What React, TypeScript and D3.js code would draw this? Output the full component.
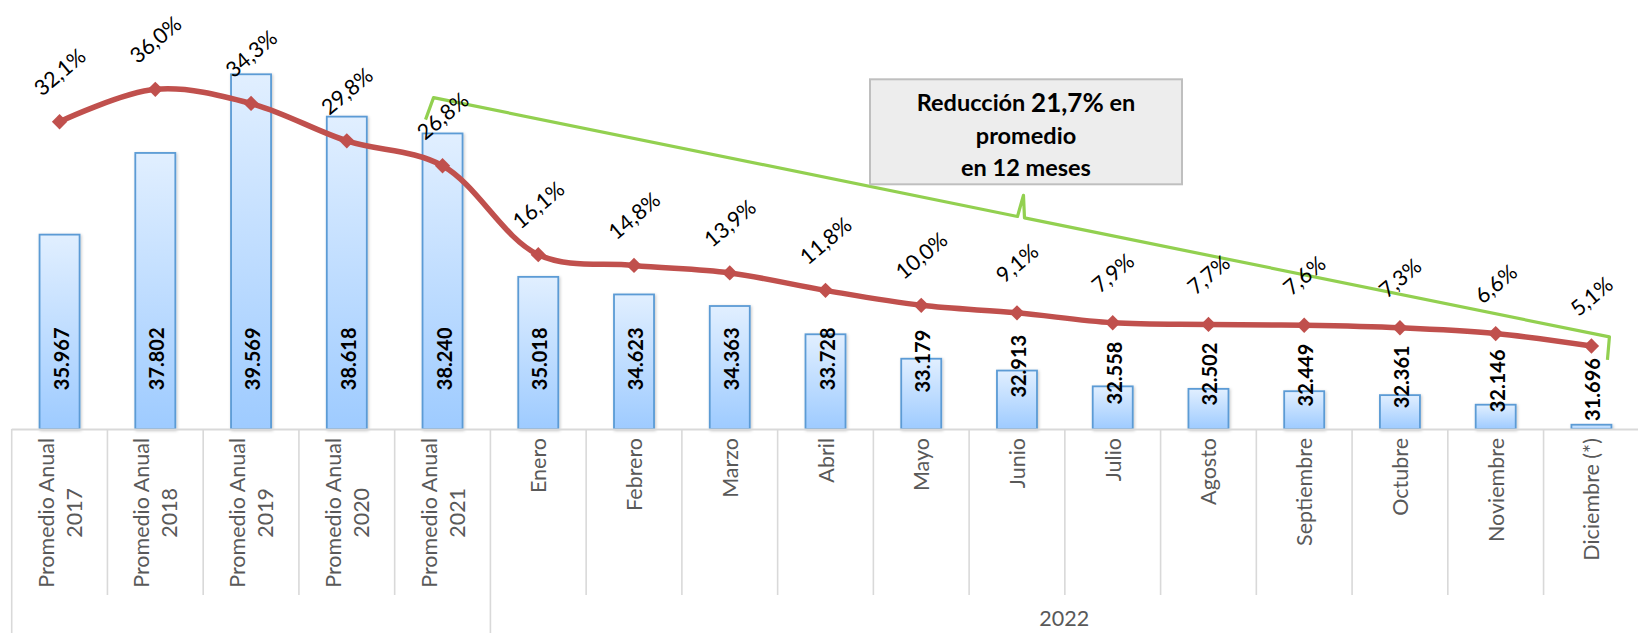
import React, { useEffect, useRef } from "react";
import * as d3 from "d3";

const categories = [
  "Promedio Anual\n2017",
  "Promedio Anual\n2018",
  "Promedio Anual\n2019",
  "Promedio Anual\n2020",
  "Promedio Anual\n2021",
  "Enero",
  "Febrero",
  "Marzo",
  "Abril",
  "Mayo",
  "Junio",
  "Julio",
  "Agosto",
  "Septiembre",
  "Octubre",
  "Noviembre",
  "Diciembre (*)",
];
const barValues = [35967, 37802, 39569, 38618, 38240, 35018, 34623, 34363, 33728, 33179, 32913, 32558, 32502, 32449, 32361, 32146, 31696];
const pctValues = [32.1, 36.0, 34.3, 29.8, 26.8, 16.1, 14.8, 13.9, 11.8, 10.0, 9.1, 7.9, 7.7, 7.6, 7.3, 6.6, 5.1];
const groupLabel = "2022";
const groupStart = 5;
const noteLines = ["Reducción ", "21,7%", " en", "promedio", "en 12 meses"];

const W = 1638;
const H = 633;
const FONT = "Lato, 'Open Sans', sans-serif";

export default function App() {
  const ref = useRef<SVGSVGElement>(null);
  useEffect(() => {
    const svg = d3.select(ref.current);
    svg.selectAll("*").remove();
    const loc = d3.formatLocale({ decimal: ",", thousands: ".", grouping: [3], currency: ["", ""] });
    const fmtInt = loc.format(",d");
    const fmtPct = loc.format(".1f");

    const x = d3.scaleBand<number>().domain(d3.range(categories.length)).range([11.7, 1639.3]).padding(0);
    const cx = (i: number) => (x(i) as number) + x.bandwidth() / 2;
    const axisY = 429;
    const yBar = d3.scaleLinear().domain([31600, 40000]).range([axisY, 55.1]);
    const yPct = d3.scaleLinear().domain([0, 40]).range([388.4, 56.1]);
    const barW = x.bandwidth() * 0.418;

    const defs = svg.append("defs");
    const g = defs.append("linearGradient").attr("id", "barGrad").attr("x1", 0).attr("y1", 0).attr("x2", 0).attr("y2", 1);
    g.append("stop").attr("offset", "0%").attr("stop-color", "#e1efff");
    g.append("stop").attr("offset", "100%").attr("stop-color", "#9ecbff");
    const f = defs.append("filter").attr("id", "sh").attr("x", "-20%").attr("y", "-20%").attr("width", "140%").attr("height", "140%");
    f.append("feDropShadow").attr("dx", 1).attr("dy", 1).attr("stdDeviation", 1.5).attr("flood-color", "#000").attr("flood-opacity", 0.22);

    // bars
    svg.append("g").selectAll("rect").data(barValues).join("rect")
      .attr("x", (_, i) => cx(i) - barW / 2)
      .attr("y", (d) => yBar(d))
      .attr("width", barW)
      .attr("height", (d) => axisY - yBar(d))
      .attr("fill", "url(#barGrad)")
      .attr("stroke", "#5b9bd5")
      .attr("stroke-width", 1.8)
      .attr("filter", "url(#sh)");

    // axis line and separators
    svg.append("line").attr("x1", x(0) as number).attr("x2", W).attr("y1", axisY + 0.5).attr("y2", axisY + 0.5)
      .attr("stroke", "#d9d9d9").attr("stroke-width", 2);
    const seps = d3.range(categories.length);
    svg.append("g").selectAll("line").data(seps).join("line")
      .attr("x1", (i) => x(i) as number).attr("x2", (i) => x(i) as number)
      .attr("y1", axisY).attr("y2", (i) => (i === 0 || i === groupStart ? H : 595))
      .attr("stroke", "#d9d9d9").attr("stroke-width", 1.6);

    // category labels
    const catG = svg.append("g").attr("font-family", FONT).attr("font-size", 21.5).attr("fill", "#595959");
    categories.forEach((c, i) => {
      const lines = c.split("\n");
      const t = catG.append("g").attr("transform", `translate(${cx(i)},438) rotate(-90)`);
      const texts = lines.map((ln, k) =>
        t.append("text").attr("y", (k - (lines.length - 1) / 2) * 28).attr("dominant-baseline", "central").text(ln)
      );
      const lens = texts.map((tx) => (tx.node() as SVGTextElement).getComputedTextLength());
      const maxL = d3.max(lens) as number;
      texts.forEach((tx) => tx.attr("text-anchor", "middle").attr("x", -maxL / 2));
    });
    const gx0 = x(groupStart) as number;
    catG.append("text").attr("x", (gx0 + W) / 2).attr("y", 618).attr("text-anchor", "middle")
      .attr("dominant-baseline", "central").text(groupLabel);

    // bar value labels
    const refY = yBar(33300);
    svg.append("g").attr("font-family", FONT).attr("font-size", 20).attr("font-weight", 700).attr("fill", "#000")
      .selectAll("text").data(barValues).join("text")
      .attr("transform", (d, i) => {
        const c = 358.8 + Math.max(0, yBar(d) - refY) * 0.43;
        return `translate(${cx(i) + 1},${c}) rotate(-90)`;
      })
      .attr("text-anchor", "middle").attr("dominant-baseline", "central")
      .text((d) => fmtInt(d));

    // green bracket
    const p1: [number, number] = [cx(4) - 9, yPct(35)];
    const pE: [number, number] = [cx(16) + 18, yPct(6.2)];
    const slope = (pE[1] - p1[1]) / (pE[0] - p1[0]);
    const mx = (p1[0] + pE[0]) / 2;
    const my = p1[1] + (mx - p1[0]) * slope;
    const pts: [number, number][] = [
      [cx(4) - 17, yPct(35) + 22],
      p1,
      [mx - 4, my - 4 * slope],
      [mx + 2, my - 22],
      [mx + 3, my + 3 * slope],
      pE,
      [cx(16) + 16, yPct(6.2) + 23],
    ];
    svg.append("path").attr("d", d3.line()(pts) as string).attr("fill", "none")
      .attr("stroke", "#92d050").attr("stroke-width", 3.2).attr("stroke-linejoin", "round");

    // line
    const lineGen = d3.line<number>().x((_, i) => cx(i)).y((d) => yPct(d)).curve(d3.curveCatmullRom);
    svg.append("path").attr("d", lineGen(pctValues) as string).attr("fill", "none")
      .attr("stroke", "#c0504d").attr("stroke-width", 5.5);
    const diamond = d3.symbol().type(d3.symbolDiamond2).size(150);
    svg.append("g").selectAll("path").data(pctValues).join("path")
      .attr("d", diamond() as string)
      .attr("transform", (d, i) => `translate(${cx(i)},${yPct(d)})`)
      .attr("fill", "#c0504d");

    // pct labels
    svg.append("g").attr("font-family", FONT).attr("font-size", 21.5).attr("fill", "#000")
      .selectAll("text").data(pctValues).join("text")
      .attr("transform", (d, i) => `translate(${cx(i)},${yPct(d) - 50}) rotate(-40)`)
      .attr("text-anchor", "middle").attr("dominant-baseline", "central")
      .text((d) => fmtPct(d) + "%");

    // annotation box
    const bx = 870, by = 79.3, bw = 312, bh = 105;
    svg.append("rect").attr("x", bx).attr("y", by).attr("width", bw).attr("height", bh)
      .attr("fill", "#ededed").attr("stroke", "#bfbfbf").attr("stroke-width", 2);
    const nt = svg.append("g").attr("font-family", FONT).attr("font-weight", 700).attr("fill", "#000")
      .attr("text-anchor", "middle");
    const l1 = nt.append("text").attr("x", bx + bw / 2).attr("y", 101.7).attr("dominant-baseline", "central").attr("font-size", 23.5);
    l1.append("tspan").text(noteLines[0]);
    l1.append("tspan").attr("font-size", 26).text(noteLines[1]);
    l1.append("tspan").text(noteLines[2]);
    nt.append("text").attr("x", bx + bw / 2).attr("y", 135).attr("dominant-baseline", "central").attr("font-size", 23.5).text(noteLines[3]);
    nt.append("text").attr("x", bx + bw / 2).attr("y", 167.3).attr("dominant-baseline", "central").attr("font-size", 23.5).text(noteLines[4]);
  }, []);
  return (
    <svg ref={ref} width={W} height={H} style={{ position: "absolute", left: 0, top: 0, background: "#fff" }} />
  );
}
